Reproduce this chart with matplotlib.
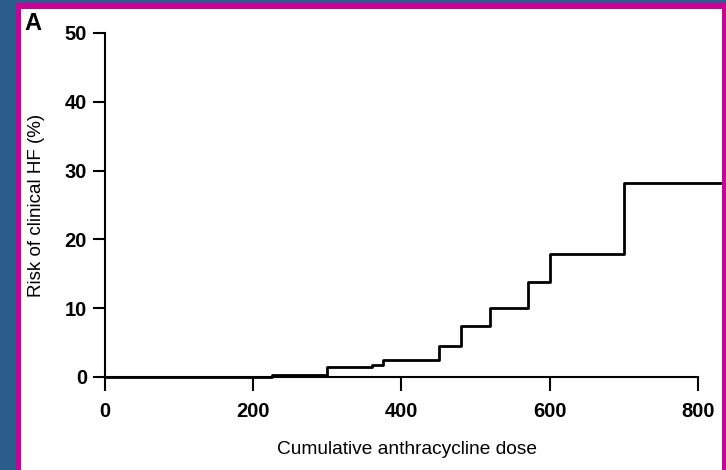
import matplotlib
matplotlib.use('Agg')
import matplotlib.pyplot as plt
from matplotlib.patches import Rectangle

plt.rcParams['font.family'] = ['Liberation Sans', 'DejaVu Sans']

# step edges of the cumulative risk curve (dose, risk %)
dose = [0, 225, 300, 360, 375, 450, 480, 520, 570, 600, 700, 830]
risk = [0, 0.3, 1.4, 1.8, 2.4, 4.5, 7.4, 10.0, 13.8, 17.9, 28.2, 28.2]
x_ticks = [0, 200, 400, 600, 800]
y_ticks = [0, 10, 20, 30, 40, 50]

W, H = 726, 470
fig = plt.figure(figsize=(W / 100, H / 100), dpi=100)
fig.patch.set_facecolor('#2b5d8c')

# magenta frame and white panel (behind the axes)
fig.patches.append(Rectangle((16 / W, 0), 710 / W, 467 / H, transform=fig.transFigure,
                             facecolor='#cc0099', edgecolor='none', zorder=-2))
fig.patches.append(Rectangle((21 / W, 0), 701 / W, 461 / H, transform=fig.transFigure,
                             facecolor='white', edgecolor='none', zorder=-1))

x0, x1 = 105, 105 + 830 * (593 / 800)
ax = fig.add_axes([x0 / W, 93 / H, (x1 - x0) / W, (377 - 33) / H])
ax.set_facecolor('none')
ax.set_zorder(1)

ax.step(dose, risk, where='post', color='black', lw=2.0, clip_on=False, zorder=3)

ax.set_xlim(0, 830)
ax.set_ylim(0, 50)
ax.set_xticks(x_ticks)
ax.set_yticks(y_ticks)
ax.spines['top'].set_visible(False)
ax.spines['right'].set_visible(False)
ax.spines['bottom'].set_bounds(0, 800)
for s in ['left', 'bottom']:
    ax.spines[s].set_linewidth(1.5)
ax.tick_params(axis='x', length=10, width=1.5, pad=8, labelsize=14.5)
ax.tick_params(axis='y', length=9, width=1.5, pad=4, labelsize=14.5)
for lab in ax.get_xticklabels() + ax.get_yticklabels():
    lab.set_fontweight('bold')

ax.set_xlabel('Cumulative anthracycline dose', fontsize=13.8)
ax.xaxis.set_label_coords(0.491, -0.185)
ax.set_ylabel('Risk of clinical HF (%)', fontsize=13.5)
ax.yaxis.set_label_coords(-0.098, 0.5)

fig.text(24 / W, 1 - 24 / H, 'A', fontsize=17, fontweight='bold', va='center', ha='left', zorder=2)

fig.savefig('out.png', dpi=100, facecolor=fig.get_facecolor())
